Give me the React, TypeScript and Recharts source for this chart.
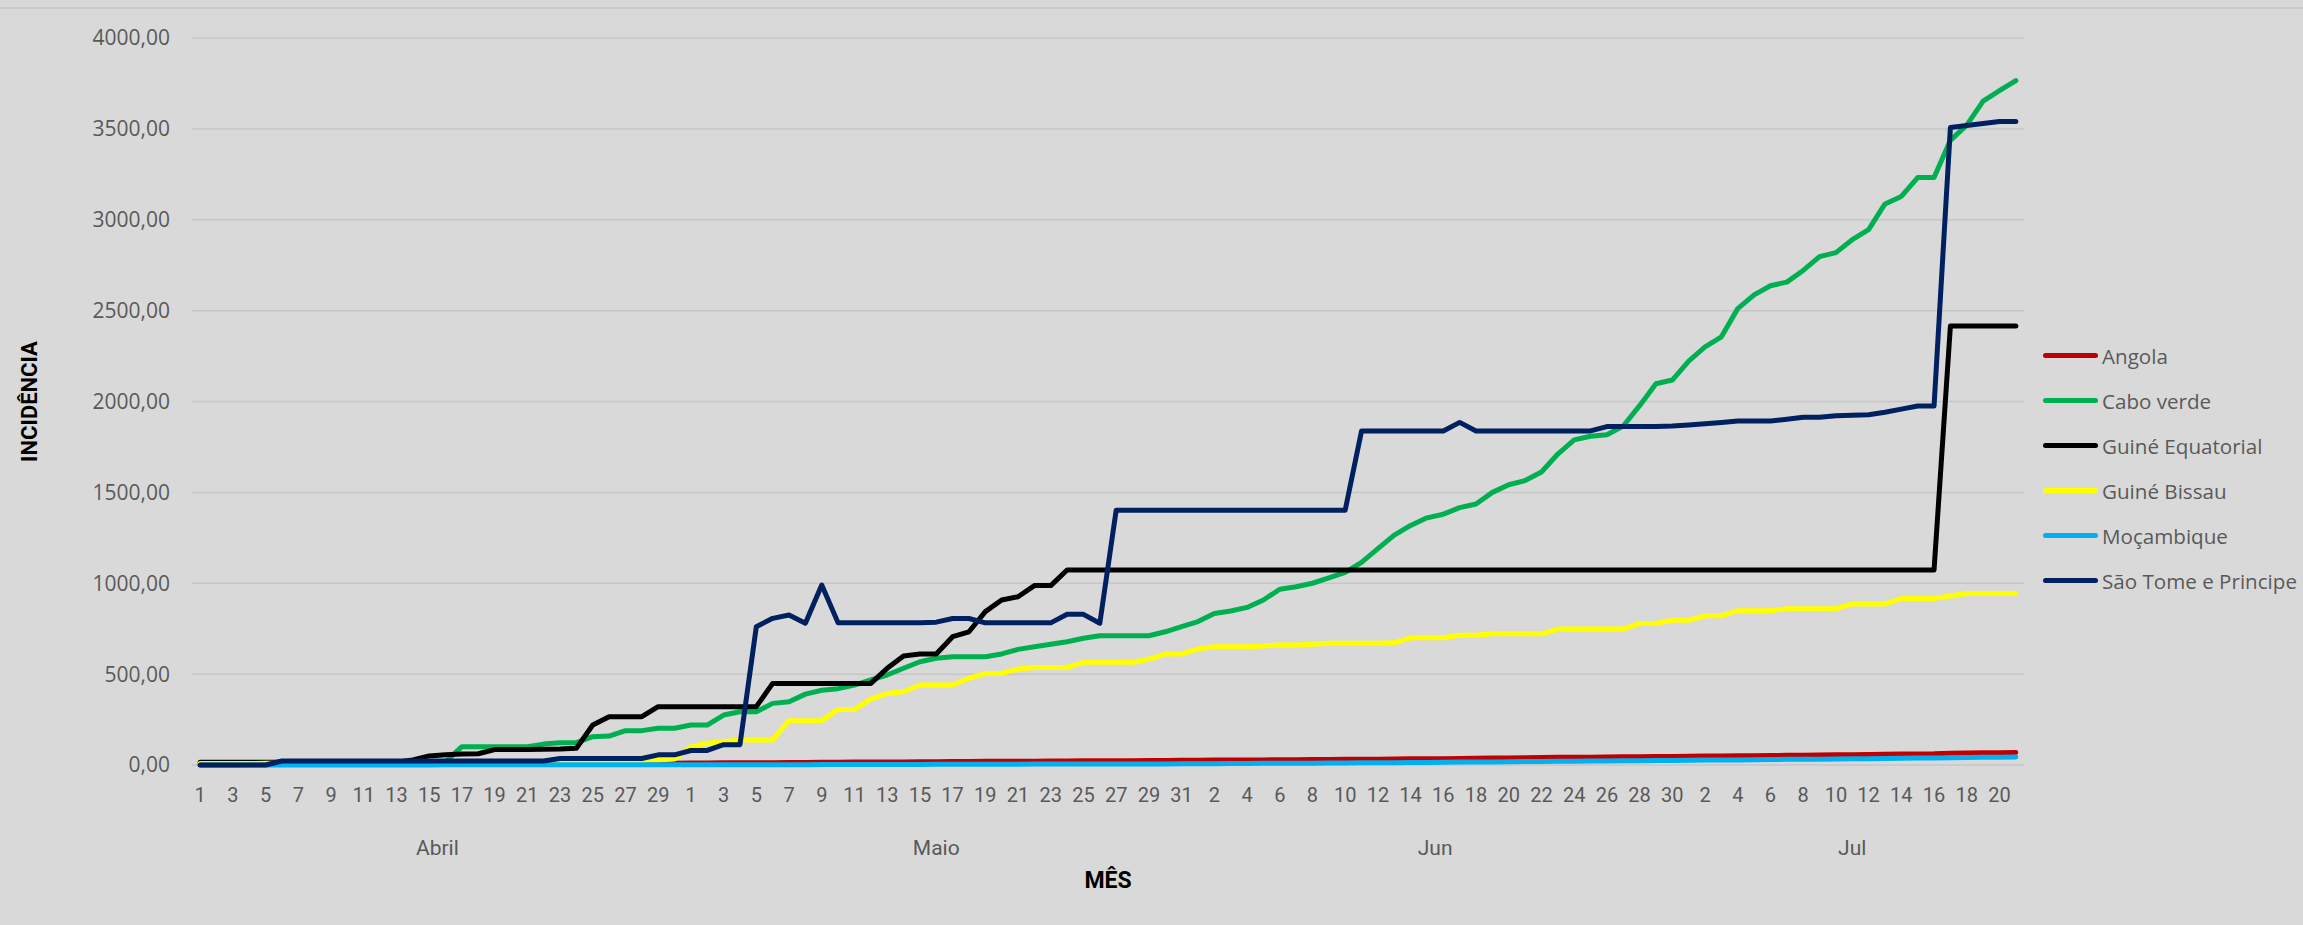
import { LineChart, Line, XAxis, YAxis, CartesianGrid, Legend } from "recharts";

// categorias: dias de 1 de Abril a 21 de Julho
const meses = ["Abril", "Maio", "Jun", "Jul"];
const diasPorMes = [30, 31, 30, 21];
const yTicks = [0, 500, 1000, 1500, 2000, 2500, 3000, 3500, 4000];

// incidência por país (Abril | Maio | Junho | Julho)
const angola = [
  2, 2, 2, 3, 3, 3, 3, 4, 4, 4, 4, 5, 5, 5, 5, 6, 6, 6, 7, 7, 7, 8, 8, 8, 9, 9, 9, 10, 10, 10,
  11, 11, 12, 12, 13, 13, 14, 14, 15, 15, 16, 16, 17, 17, 18, 18, 19, 19, 20, 20, 21, 21, 22, 22, 23, 23, 24, 24, 25, 25, 26,
  26, 27, 27, 28, 28, 29, 29, 30, 30, 31, 32, 32, 33, 34, 35, 35, 36, 37, 38, 39, 40, 41, 42, 42, 43, 44, 45, 46, 47, 47,
  48, 49, 50, 51, 51, 52, 53, 54, 55, 56, 57, 58, 59, 60, 61, 62, 65, 66, 67, 68, 69,
];

const caboVerde = [
  10, 10, 10, 10, 11, 11, 12, 12, 12, 13, 13, 14, 14, 15, 15, 18, 101, 101, 101, 101, 101, 115, 123, 123, 156, 159, 189, 189, 202, 202,
  220, 220, 275, 293, 293, 339, 348, 390, 411, 420, 440, 468, 495, 532, 568, 587, 596, 596, 596, 611, 636, 651, 664, 678, 697, 711, 711, 711, 711, 733, 761,
  789, 834, 847, 867, 908, 967, 981, 1000, 1029, 1060, 1115, 1191, 1265, 1318, 1360, 1380, 1416, 1436, 1500, 1542, 1565, 1612, 1711, 1789, 1809, 1817, 1865, 1977, 2098, 2118,
  2222, 2300, 2356, 2511, 2587, 2637, 2657, 2721, 2797, 2819, 2890, 2946, 3087, 3128, 3232, 3232, 3437, 3521, 3653, 3710, 3765,
];

const guineEquatorial = [
  15, 15, 15, 15, 15, 15, 15, 15, 15, 15, 15, 15, 15, 28, 50, 57, 60, 62, 85, 85, 85, 86, 88, 92, 220, 266, 266, 266, 321, 321,
  321, 321, 321, 321, 321, 449, 449, 449, 449, 449, 449, 449, 532, 600, 611, 611, 706, 733, 844, 908, 926, 987, 987, 1073, 1073, 1073, 1073, 1073, 1073, 1073, 1073,
  1073, 1073, 1073, 1073, 1073, 1073, 1073, 1073, 1073, 1073, 1073, 1073, 1073, 1073, 1073, 1073, 1073, 1073, 1073, 1073, 1073, 1073, 1073, 1073, 1073, 1073, 1073, 1073, 1073, 1073,
  1073, 1073, 1073, 1073, 1073, 1073, 1073, 1073, 1073, 1073, 1073, 1073, 1073, 1073, 1073, 1073, 2415, 2415, 2415, 2415, 2415,
];

const guineBissau = [
  8, 8, 8, 8, 9, 9, 9, 10, 10, 10, 11, 11, 11, 12, 12, 13, 13, 14, 14, 15, 15, 16, 17, 18, 19, 20, 22, 25, 27, 33,
  101, 120, 128, 138, 138, 138, 244, 244, 244, 306, 306, 362, 394, 403, 440, 440, 440, 477, 504, 504, 528, 537, 537, 537, 565, 565, 565, 565, 581, 611, 611,
  638, 651, 651, 651, 655, 660, 660, 665, 670, 670, 670, 670, 672, 700, 700, 700, 714, 714, 722, 722, 722, 722, 748, 748, 748, 748, 748, 779, 779, 796,
  796, 821, 821, 849, 849, 849, 860, 860, 860, 860, 886, 886, 886, 916, 916, 916, 930, 944, 944, 944, 944,
];

const mocambique = [
  0, 0, 0, 0, 0, 0, 0, 0, 0, 0, 0, 0, 0, 0, 0, 1, 1, 1, 1, 1, 1, 1, 1, 1, 1, 1, 1, 1, 1, 1,
  2, 2, 2, 2, 2, 2, 2, 2, 3, 3, 3, 3, 3, 3, 3, 4, 4, 4, 4, 4, 4, 5, 5, 5, 5, 5, 6, 6, 6, 6, 7,
  7, 7, 8, 8, 9, 9, 10, 10, 11, 11, 12, 12, 13, 14, 14, 15, 16, 16, 17, 18, 19, 19, 20, 21, 22, 22, 23, 24, 25, 25,
  26, 27, 27, 28, 29, 30, 31, 31, 32, 33, 34, 35, 36, 37, 38, 38, 40, 41, 42, 43, 44,
];

const saoTome = [
  0, 0, 0, 0, 0, 22, 22, 22, 22, 22, 22, 22, 22, 22, 22, 22, 22, 22, 22, 22, 22, 22, 36, 36, 36, 36, 36, 36, 56, 56,
  80, 80, 112, 112, 761, 807, 825, 780, 990, 782, 782, 782, 782, 782, 782, 786, 806, 806, 782, 782, 782, 782, 782, 829, 829, 780, 1402, 1402, 1402, 1402, 1402,
  1402, 1402, 1402, 1402, 1402, 1402, 1402, 1402, 1402, 1402, 1838, 1838, 1838, 1838, 1838, 1838, 1885, 1838, 1838, 1838, 1838, 1838, 1838, 1838, 1838, 1862, 1862, 1862, 1862, 1865,
  1871, 1877, 1885, 1893, 1893, 1893, 1902, 1913, 1913, 1921, 1924, 1927, 1941, 1958, 1975, 1975, 3507, 3519, 3530, 3540, 3540,
];

const series = [
  { name: "Angola", values: angola, color: "#C00000" },
  { name: "Cabo verde", values: caboVerde, color: "#00B050" },
  { name: "Guiné Equatorial", values: guineEquatorial, color: "#000000" },
  { name: "Guiné Bissau", values: guineBissau, color: "#FFFF00" },
  { name: "Moçambique", values: mocambique, color: "#00B0F0" },
  { name: "São Tome e Principe", values: saoTome, color: "#002060" },
];

const dias: { idx: number; dia: number }[] = [];
diasPorMes.forEach((n) => {
  for (let d = 1; d <= n; d++) dias.push({ idx: dias.length, dia: d });
});

const data = dias.map((c) => {
  const row: Record<string, number> = { idx: c.idx, dia: c.dia };
  series.forEach((s) => (row[s.name] = s.values[c.idx]));
  return row;
});

const dayTicks = dias.filter((c) => c.idx % 2 === 0).map((c) => c.idx);
let acc = 0;
const monthTicks = diasPorMes.map((n) => {
  const mid = acc + (n - 1) / 2;
  acc += n;
  return mid;
});

const GREY = "#595959";
const fmt = (v: number) => v.toFixed(2).replace(".", ",");

function LegendBox({ payload }: any) {
  return (
    <div style={{ fontFamily: "'Open Sans'", fontSize: 20.6, color: GREY }}>
      {(payload ?? []).map((e: any) => (
        <div key={e.value} style={{ display: "flex", alignItems: "center", height: 45, whiteSpace: "nowrap" }}>
          <span style={{ display: "inline-block", width: 55, height: 5, borderRadius: 3, background: e.color, marginRight: 4 }} />
          <span>{e.value}</span>
        </div>
      ))}
    </div>
  );
}

export default function App() {
  return (
    <div style={{ position: "fixed", left: 0, top: 0, width: 2303, height: 925, background: "#d9d9d9", overflow: "hidden" }}>
      <div style={{ position: "absolute", left: 0, top: 7, width: 2303, height: 2, background: "#cbcbcb" }} />
      <LineChart width={2303} height={925} data={data} margin={{ top: 38, right: 279, bottom: 0, left: 0 }}>
        <CartesianGrid vertical={false} stroke="#c6c6c6" strokeWidth={1.5} />
        <XAxis
          dataKey="idx"
          type="number"
          domain={[-0.5, 111.5]}
          ticks={dayTicks}
          interval={0}
          tickFormatter={(i: number) => String(dias[i]?.dia ?? "")}
          axisLine={false}
          tickLine={false}
          tickSize={0}
          tickMargin={23}
          height={50}
          tick={{ fill: GREY, fontSize: 20, fontFamily: "Roboto" }}
        />
        <XAxis
          xAxisId="mes"
          dataKey="idx"
          type="number"
          domain={[-0.5, 111.5]}
          ticks={monthTicks}
          interval={0}
          tickFormatter={(v: number) => meses[monthTicks.indexOf(v)] ?? ""}
          axisLine={false}
          tickLine={false}
          tickSize={0}
          tickMargin={25}
          height={110}
          tick={{ fill: GREY, fontSize: 21, fontFamily: "Roboto" }}
          label={{ value: "MÊS", position: "insideBottom", offset: 37, fill: "#000", fontSize: 23, fontWeight: 700, fontFamily: "Roboto" }}
        />
        <YAxis
          type="number"
          domain={[0, 4000]}
          ticks={yTicks}
          interval={0}
          width={192}
          tickFormatter={fmt}
          axisLine={false}
          tickLine={false}
          tickSize={0}
          tickMargin={22}
          tick={{ fill: GREY, fontSize: 21, fontFamily: "'Open Sans'" }}
          label={{
            content: ({ viewBox }: any) => {
              const cx = viewBox.x + 29;
              const cy = viewBox.y + viewBox.height / 2;
              return (
                <text
                  x={cx}
                  y={cy}
                  transform={`rotate(-90, ${cx}, ${cy})`}
                  textAnchor="middle"
                  dominantBaseline="central"
                  fill="#000"
                  fontSize={22}
                  fontWeight={700}
                  fontFamily="Roboto"
                >
                  INCIDÊNCIA
                </text>
              );
            },
          }}
        />
        <Legend
          layout="vertical"
          align="center"
          verticalAlign="middle"
          itemSorter={(item: any) => series.findIndex((s) => s.name === item.value)}
          content={<LegendBox />}
          wrapperStyle={{ left: 2043, top: 333, width: 260 }}
        />
        {series.map((s) => (
          <Line
            key={s.name}
            type="linear"
            dataKey={s.name}
            name={s.name}
            stroke={s.color}
            strokeWidth={5}
            strokeLinejoin="round"
            strokeLinecap="round"
            dot={false}
            activeDot={false}
            isAnimationActive={false}
          />
        ))}
      </LineChart>
    </div>
  );
}
